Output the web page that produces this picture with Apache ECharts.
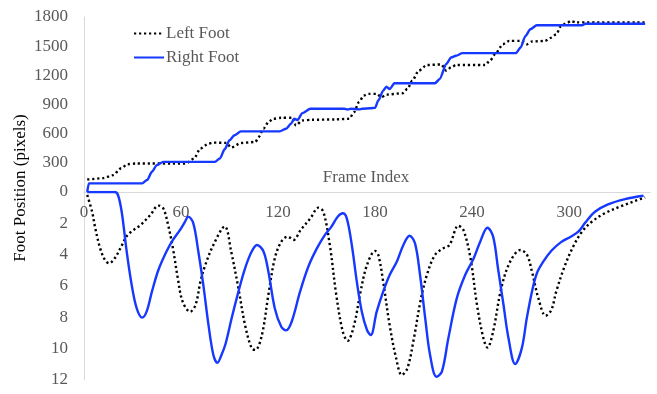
<!DOCTYPE html>
<html>
<head>
<meta charset="utf-8">
<script src="https://cdn.jsdelivr.net/npm/echarts@6/dist/echarts.min.js"></script>
<style>
html,body{margin:0;padding:0;background:#fff;}
#chart{width:657px;height:394px;}
</style>
</head>
<body>
<div id="chart"></div>
<script>
// ---- data ----
const seriesNames = ['Left Foot', 'Right Foot'];
const xTicks = [0, 60, 120, 180, 240, 300];
const topTicks = [0, 300, 600, 900, 1200, 1500, 1800];
const bottomTicks = [0, 2, 4, 6, 8, 10, 12];

// top panel: horizontal foot position (pixels)
const leftTopFrames = [2,3,12,18,23,27,32,63,68,72,77,80,88,91,97,106,108,111,114,117,122,129,131,135,141,155,164,167,170,173,176,181,184,187,197,200,203,207,212,221,224,227,230,248,251,255,259,263,270,274,277,285,289,292,295,299,301,304,347];
const leftTopValues = [128,130,143,174,245,286,293,293,344,447,498,508,505,457,504,515,566,651,719,753,764,764,685,736,743,746,753,821,924,992,1009,1009,975,1002,1016,1060,1145,1248,1306,1312,1248,1282,1306,1306,1350,1435,1520,1554,1554,1520,1548,1554,1588,1622,1708,1742,1759,1745,1745];

const rightTopFrames = [2,3,36,39,42,45,49,81,84,87,90,93,97,121,125,128,130,132,135,140,161,163,165,170,172,177,180,182,185,187,189,192,217,220,224,227,230,234,267,270,273,276,280,308,310,347];
const rightTopValues = [0,89,89,123,208,276,310,310,344,440,532,583,624,624,651,702,753,740,811,856,856,848,856,850,856,862,866,941,1043,1084,1060,1118,1118,1163,1316,1384,1401,1428,1428,1486,1606,1674,1715,1715,1730,1730];

// bottom panel: vertical foot position (pixels, inverted axis)
const leftBottomFrames = [2,5,7,10,13,15.6,19,23,27,35,41,46,49,52,55,58,61,65.6,69,72,75,80,87,91,95.5,99.6,103.7,106,110,114,118,122,126,129.5,134,140,145,148,152,156,160,163,167,171,175,180,182,185,189,193,196.5,200,204,208,212,217,222,226,231.5,234.6,239,243,247,249.5,253,258,263.5,270,274,277,281,285.5,289,292,297.5,303,308,314,322,333,344,347];
const leftBottomValues = [0.19,1.26,2.32,3.6,4.34,4.55,4.23,3.49,2.74,2.1,1.47,0.87,1.04,2.1,3.6,5.5,7.0,7.64,7.2,5.72,4.66,3.38,2.2,3.8,6.15,8.5,9.98,10.08,9.13,6.57,4.23,3.17,2.85,3.06,2.42,1.68,1.0,1.26,3.38,6.57,8.9,9.5,8.5,6.36,4.66,3.77,4.02,5.72,8.5,10.6,11.68,11.25,9.34,7.0,5.3,4.02,3.6,3.38,2.15,2.42,4.23,7.2,9.34,9.93,8.9,6.15,4.45,3.7,4.02,5.08,6.79,7.9,7.53,6.36,4.66,3.38,2.53,1.9,1.36,0.87,0.45,0.35];

const rightBottomFrames = [2,19,21,23.3,26.4,29.5,32.6,36,38.7,42,46,51,55,59.4,62.5,64.5,67.6,70.7,73.8,77,80,82.5,85,87.5,91.3,95.5,99.6,103.7,107,111,114,118,122,125,128.4,133.6,138.7,144,149,153,157,160,162.5,165.6,168.7,171.8,175,177.3,181,185,189,193.4,197.5,201.3,204.7,207.8,211,214,218,221.3,225.3,230.5,235.7,241,245,249.5,253,256,259.4,262.5,266.6,270.7,273.8,277,280,284,289,295,301,306,310,316,324,334.6,346];
const rightBottomValues = [0,0,0.19,1.26,3.8,5.94,7.43,8.02,7.64,6.36,4.98,3.8,3.06,2.42,1.89,1.57,2.0,3.8,5.94,8.5,10.4,10.9,10.4,9.7,8.06,6.36,4.87,3.8,3.38,3.8,5.08,7.43,8.6,8.83,8.28,6.36,4.77,3.6,2.74,2.21,1.57,1.36,1.68,3.38,5.72,7.64,8.81,9.13,7.64,6.36,5.3,4.45,3.38,2.79,3.28,5.3,8.06,10.4,11.79,11.47,9.34,6.79,5.3,4.23,3.17,2.28,2.85,4.87,7.2,9.34,10.98,9.98,8.06,6.36,5.2,4.45,3.75,3.2,2.85,2.5,1.95,1.26,0.79,0.45,0.24];

// ---- helpers ----
function zip(xs, ys) { return xs.map((x, i) => [x, ys[i]]); }

const FONT = '"Liberation Serif", "Times New Roman", serif';
const TXT = '#595959';
const AXIS = '#d9d9d9';
const BLUE = '#1638ff';

const chart = echarts.init(document.getElementById('chart'), null, {renderer: 'canvas'});

const option = {
  animation: false,
  backgroundColor: '#fff',
  textStyle: {fontFamily: FONT},
  grid: [
    {left: 84, right: 7, top: 17, height: 175},
    {left: 84, right: 7, top: 192, height: 188}
  ],
  legend: {
    data: seriesNames,
    orient: 'vertical',
    left: 133,
    top: 25,
    padding: 0,
    itemWidth: 30,
    itemHeight: 14,
    itemGap: 7,
    itemStyle: {opacity: 0},
    textStyle: {fontFamily: FONT, fontSize: 17, color: TXT, padding: [0, 0, 0, -3]}
  },
  xAxis: [
    {
      gridIndex: 0, type: 'value', min: 0, max: 350, interval: 60,
      axisLine: {show: true, lineStyle: {color: AXIS, width: 1}},
      axisTick: {show: false}, axisLabel: {show: false}, splitLine: {show: false}
    },
    {
      gridIndex: 1, type: 'value', min: 0, max: 350, interval: 60, position: 'top',
      axisLine: {show: true, lineStyle: {color: AXIS, width: 1}},
      axisTick: {show: false}, splitLine: {show: false},
      axisLabel: {
        show: true, inside: true, margin: 12,
        fontFamily: FONT, fontSize: 17, color: TXT,
        formatter: v => (xTicks.indexOf(v) >= 0 ? String(v) : '')
      }
    }
  ],
  yAxis: [
    {
      gridIndex: 0, type: 'value', min: topTicks[0], max: topTicks[topTicks.length - 1], interval: 300,
      axisLine: {show: true, lineStyle: {color: AXIS, width: 1}},
      axisTick: {show: false}, splitLine: {show: false},
      axisLabel: {
        margin: 16, fontFamily: FONT, fontSize: 17, color: TXT,
        formatter: v => (v === 0 ? '' : String(v))
      }
    },
    {
      gridIndex: 1, type: 'value', inverse: true, min: bottomTicks[0], max: bottomTicks[bottomTicks.length - 1], interval: 2,
      axisLine: {show: true, lineStyle: {color: AXIS, width: 1}},
      axisTick: {show: false}, splitLine: {show: false},
      axisLabel: {margin: 16, fontFamily: FONT, fontSize: 17, color: TXT}
    }
  ],
  graphic: [
    {
      type: 'text', x: 21, y: 188, rotation: Math.PI / 2,
      style: {
        text: 'Foot Position (pixels)', fill: '#000', font: '17px ' + FONT,
        textAlign: 'center', textVerticalAlign: 'middle', align: 'center', verticalAlign: 'middle'
      }
    },
    {
      type: 'text', x: 366, y: 178,
      style: {
        text: 'Frame Index', fill: TXT, font: '17px ' + FONT,
        textAlign: 'center', textVerticalAlign: 'middle', align: 'center', verticalAlign: 'middle'
      }
    }
  ],
  series: [
    {
      name: seriesNames[0], type: 'line', xAxisIndex: 0, yAxisIndex: 0,
      data: zip(leftTopFrames, leftTopValues),
      smooth: 0.25, smoothMonotone: 'x', symbol: 'none',
      lineStyle: {color: '#000', width: 2.4, type: [2.2, 2.8]},
      itemStyle: {color: '#000'}
    },
    {
      name: seriesNames[1], type: 'line', xAxisIndex: 0, yAxisIndex: 0,
      data: zip(rightTopFrames, rightTopValues),
      smooth: 0.25, smoothMonotone: 'x', symbol: 'none',
      lineStyle: {color: BLUE, width: 2.4},
      itemStyle: {color: BLUE}
    },
    {
      name: seriesNames[0], type: 'line', xAxisIndex: 1, yAxisIndex: 1,
      data: zip(leftBottomFrames, leftBottomValues),
      smooth: 0.35, symbol: 'none',
      lineStyle: {color: '#000', width: 2.4, type: [2.2, 2.8]},
      itemStyle: {color: '#000'}
    },
    {
      name: seriesNames[1], type: 'line', xAxisIndex: 1, yAxisIndex: 1,
      data: zip(rightBottomFrames, rightBottomValues),
      smooth: 0.35, symbol: 'none',
      lineStyle: {color: BLUE, width: 2.4},
      itemStyle: {color: BLUE}
    }
  ]
};
chart.setOption(option);
</script>
</body>
</html>
